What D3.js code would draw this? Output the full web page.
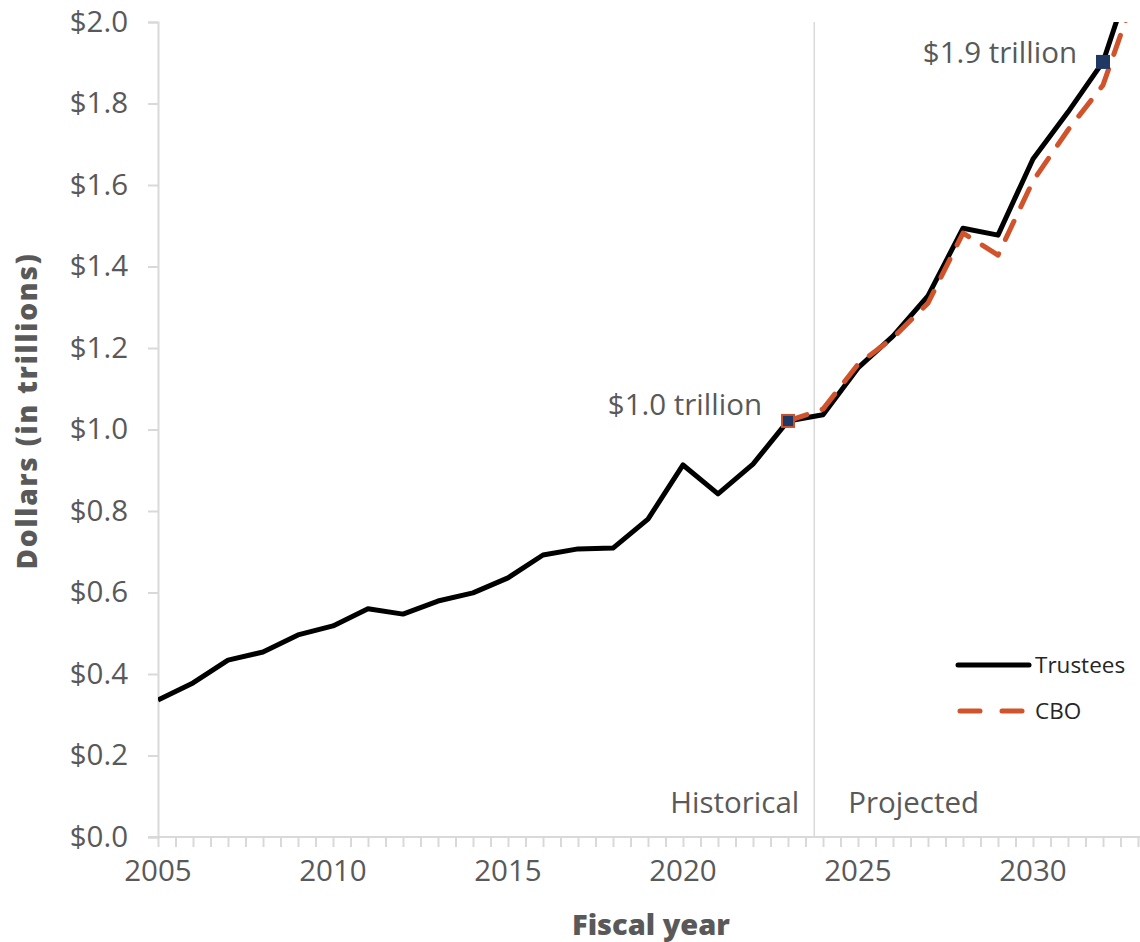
<!DOCTYPE html>
<html>
<head>
<meta charset="utf-8">
<script src="https://cdn.jsdelivr.net/npm/d3@7"></script>
<style>
  body { margin: 0; background: #fff; }
  text { font-family: "Open Sans", Lato, sans-serif; }
</style>
</head>
<body>
<div id="chart"></div>
<script>
// fiscal years and spending (trillions of dollars)
const years = d3.range(2005, 2034);
const trustees = [0.336, 0.378, 0.434, 0.454, 0.496, 0.518, 0.560, 0.547, 0.579, 0.599,
  0.636, 0.692, 0.707, 0.709, 0.780, 0.913, 0.842, 0.915, 1.021, 1.036,
  1.151, 1.229, 1.328, 1.494, 1.477, 1.664, 1.779, 1.902, 2.16];
const cboYears = d3.range(2023, 2034);
const cbo = [1.021, 1.050, 1.160, 1.225, 1.310, 1.482, 1.428, 1.610, 1.735, 1.845, 2.09];
const yTicks = [0, 0.2, 0.4, 0.6, 0.8, 1.0, 1.2, 1.4, 1.6, 1.8, 2.0];
const xLabels = [2005, 2010, 2015, 2020, 2025, 2030];
const callouts = [
  { year: 2023, value: 1.021, label: "$1.0 trillion", stroke: "#c9522a" },
  { year: 2032, value: 1.902, label: "$1.9 trillion", stroke: "#1f3864" }
];

const width = 1140, height = 942;
const m = { left: 158, right: 2, top: 22, bottom: 105 };
const svg = d3.select("#chart").append("svg")
  .attr("width", width).attr("height", height);

const x = d3.scaleLinear().domain([2005, 2033]).range([m.left, m.left + 28 * 35]);
const y = d3.scaleLinear().domain([0, 2]).range([height - m.bottom, m.top]);

const gray = "#595959", axisCol = "#d9d9d9", orange = "#d0532b";
const fs = 29.5, fw = 400;

// y axis
const yAxis = svg.append("g").attr("transform", `translate(${m.left},0)`)
  .call(d3.axisLeft(y).tickValues(yTicks).tickSize(10).tickPadding(20)
    .tickFormat(d => "$" + d3.format(".1f")(d)));
yAxis.select(".domain").attr("stroke", axisCol).attr("stroke-width", 2);
yAxis.selectAll(".tick line").attr("stroke", axisCol).attr("stroke-width", 2);
yAxis.selectAll("text").attr("fill", gray).attr("font-size", fs).attr("font-weight", fw);

// x axis, ticks every half year
const xAxis = svg.append("g").attr("transform", `translate(0,${y(0)})`)
  .call(d3.axisBottom(x).tickValues(d3.range(2005, 2033.01, 0.5)).tickSize(10)
    .tickSizeOuter(0).tickFormat(""));
xAxis.select(".domain").attr("stroke", axisCol).attr("stroke-width", 2)
  .attr("d", `M${m.left - 10},0H${width}`);
xAxis.selectAll(".tick line").attr("stroke", axisCol).attr("stroke-width", 2);
svg.append("g").selectAll("text").data(xLabels).join("text")
  .attr("x", d => x(d)).attr("y", 881).attr("text-anchor", "middle")
  .attr("fill", gray).attr("font-size", fs).attr("font-weight", fw).text(d => d);

// historical / projected divider
const divX = x(2023.75);
svg.append("line").attr("x1", divX).attr("x2", divX)
  .attr("y1", y(2)).attr("y2", y(0)).attr("stroke", axisCol).attr("stroke-width", 1.5);
svg.append("text").attr("x", divX - 15).attr("y", 813).attr("text-anchor", "end")
  .attr("fill", gray).attr("font-size", fs).attr("font-weight", fw).text("Historical");
svg.append("text").attr("x", divX + 34).attr("y", 813)
  .attr("fill", gray).attr("font-size", fs).attr("font-weight", fw).text("Projected");

// axis titles
svg.append("text").attr("transform", `translate(37,411) rotate(-90)`)
  .attr("text-anchor", "middle").attr("font-weight", 800).attr("font-size", 28)
  .attr("letter-spacing", 1.8).attr("fill", gray).text("Dollars (in trillions)");
svg.append("text").attr("x", 651).attr("y", 935).attr("text-anchor", "middle")
  .attr("font-weight", 800).attr("font-size", 29).attr("fill", gray).text("Fiscal year");

// lines, clipped to plot area
svg.append("clipPath").attr("id", "clip").append("rect")
  .attr("x", m.left).attr("y", y(2)).attr("width", width - m.left).attr("height", y(0) - y(2));
const plot = svg.append("g").attr("clip-path", "url(#clip)");
const line = d3.line().x(d => x(d[0])).y(d => y(d[1]));

plot.append("path").datum(years.map((yr, i) => [yr, trustees[i]]))
  .attr("d", line).attr("fill", "none").attr("stroke", "#000")
  .attr("stroke-width", 5).attr("stroke-linejoin", "round");
plot.append("path").datum(cboYears.map((yr, i) => [yr, cbo[i]]))
  .attr("d", line).attr("fill", "none").attr("stroke", orange)
  .attr("stroke-width", 5).attr("stroke-dasharray", "20 16")
  .attr("stroke-linecap", "round").attr("stroke-linejoin", "round");

// callout markers and labels
svg.append("g").selectAll("rect").data(callouts).join("rect")
  .attr("x", d => x(d.year) - 6).attr("y", d => y(d.value) - 6)
  .attr("width", 12).attr("height", 12)
  .attr("fill", "#1f3864").attr("stroke", d => d.stroke).attr("stroke-width", 2);
svg.append("g").selectAll("text").data(callouts).join("text")
  .attr("x", d => x(d.year) - 26).attr("y", (d, i) => y(d.value) + (i ? 1 : -6))
  .attr("text-anchor", "end").attr("fill", gray).attr("font-size", fs).attr("font-weight", fw)
  .text(d => d.label);

// legend
const legend = svg.append("g").attr("transform", "translate(958,665)");
legend.append("line").attr("x1", 0).attr("x2", 71).attr("stroke", "#000")
  .attr("stroke-width", 5).attr("stroke-linecap", "round");
legend.append("text").attr("x", 77).attr("y", 8).attr("font-size", 22.5)
  .attr("fill", "#262626").text("Trustees");
legend.append("line").attr("x1", 2).attr("x2", 68).attr("y1", 46).attr("y2", 46)
  .attr("stroke", orange).attr("stroke-width", 5).attr("stroke-linecap", "round")
  .attr("stroke-dasharray", "20 22");
legend.append("text").attr("x", 77).attr("y", 54).attr("font-size", 22.5)
  .attr("fill", "#262626").text("CBO");
</script>
</body>
</html>
